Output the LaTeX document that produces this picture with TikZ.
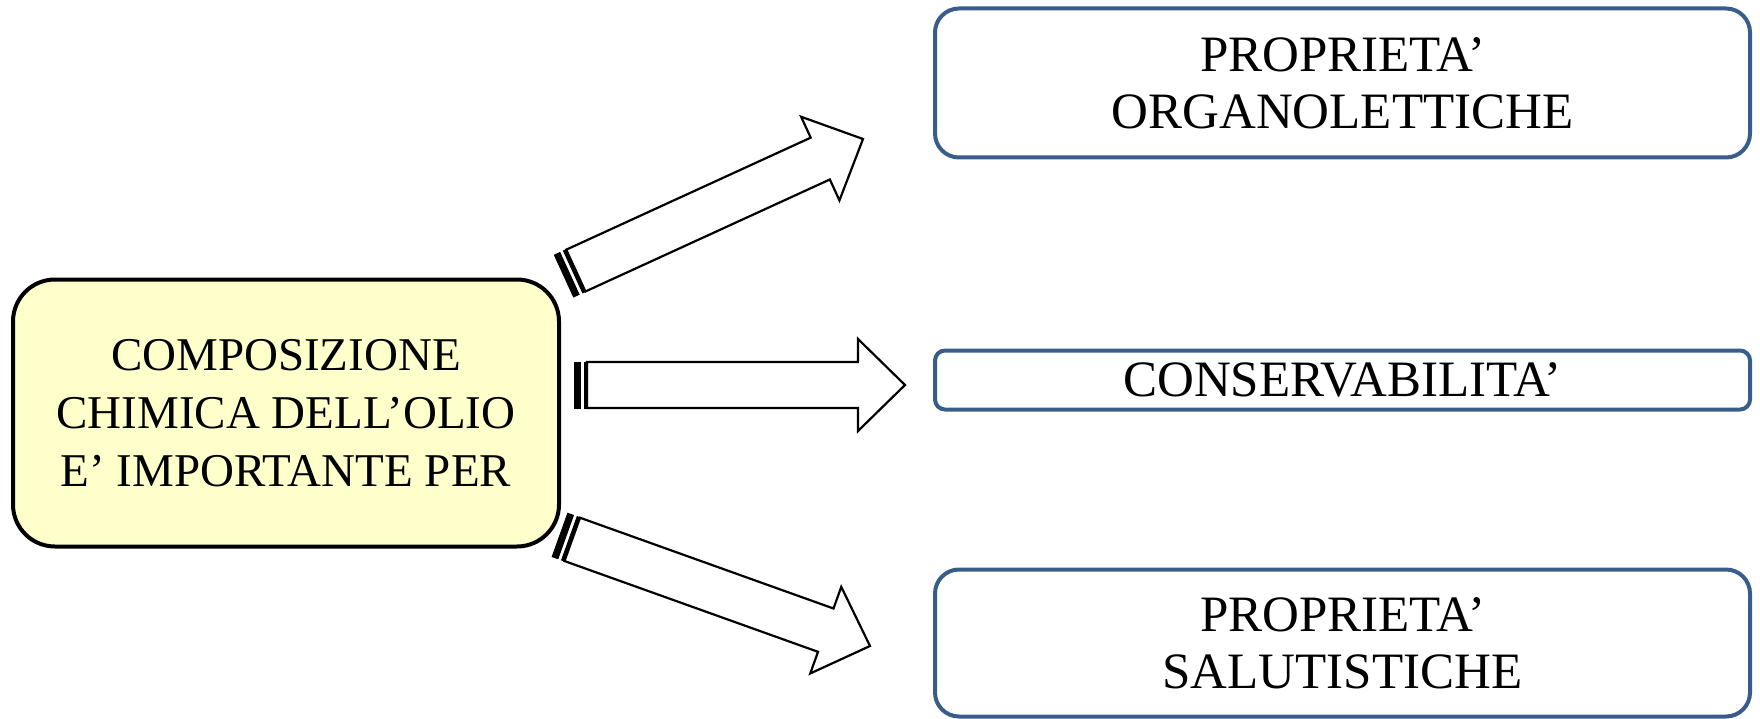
\documentclass[tikz,border=0pt]{standalone}
\usepackage{fontspec}
\setmainfont{Liberation Serif}
\usetikzlibrary{calc}
\definecolor{colorFill}{RGB}{255,255,204}
\definecolor{colorEdge}{RGB}{56,93,138}
\tikzset{
   mainbox/.style={draw=black,line width=4pt,fill=colorFill,rounded corners=42pt,align=center,inner sep=0pt,minimum width=546pt,minimum height=267pt,font=\fontsize{47}{58}\selectfont},
   propbox/.style={draw=colorEdge,line width=4pt,rounded corners=24pt,align=center,inner sep=0pt,minimum width=815pt,font=\fontsize{51}{57}\selectfont},
   arrowbody/.style={draw=black,fill=white,line width=2.2pt,line join=miter},
   arrowstripe/.style={draw=black,fill=black,line width=1pt},
}
% striped block arrow from #1 (tail) to #2 (tip)
\newcommand{\stripearrow}[2]{%
   \coordinate (sa) at ($(#1)!6pt!(#2)$);
   \coordinate (sb) at ($(#1)!10pt!(#2)$);
   \coordinate (sc) at ($(#1)!13pt!(#2)$);
   \coordinate (hb) at ($(#2)!47pt!(#1)$);
   \draw[arrowstripe] ($(#1)!23pt!90:(#2)$) -- ($(sa)!23pt!90:(#2)$) -- ($(sa)!23pt!-90:(#2)$) -- ($(#1)!23pt!-90:(#2)$) -- cycle;
   \draw[arrowstripe] ($(sb)!23pt!90:(#2)$) -- ($(sc)!23pt!90:(#2)$) -- ($(sc)!23pt!-90:(#2)$) -- ($(sb)!23pt!-90:(#2)$) -- cycle;
   \draw[arrowbody] ($(sc)!23pt!90:(#2)$) -- ($(hb)!23pt!90:(#2)$) -- ($(hb)!46pt!90:(#2)$) -- (#2)
      -- ($(hb)!46pt!-90:(#2)$) -- ($(hb)!23pt!-90:(#2)$) -- ($(sc)!23pt!-90:(#2)$) -- cycle;
}

\begin{document}
\begin{tikzpicture}[x=1pt,y=-1pt]
    \useasboundingbox (0,0) rectangle (1760,719);

    \node[mainbox] (comp) at (286,413) {COMPOSIZIONE\\CHIMICA DELL’OLIO\\E’ IMPORTANTE PER};

    \node[propbox,minimum height=149pt] (organo) at (1342.5,83) {PROPRIETA’\\ORGANOLETTICHE};
    \node[propbox,minimum height=59pt,rounded corners=10pt] (conserv) at (1342.5,380) {CONSERVABILITA’};
    \node[propbox,minimum height=147pt] (salute) at (1342.5,643) {PROPRIETA’\\SALUTISTICHE};

    \coordinate (tailA) at (564,276);
    \coordinate (tipA)  at (863,139);
    \coordinate (tailB) at (574,385);
    \coordinate (tipB)  at (905,385);
    \coordinate (tailC) at (560,535);
    \coordinate (tipC)  at (870,646);

    \stripearrow{tailA}{tipA}
    \stripearrow{tailB}{tipB}
    \stripearrow{tailC}{tipC}
\end{tikzpicture}
\end{document}
